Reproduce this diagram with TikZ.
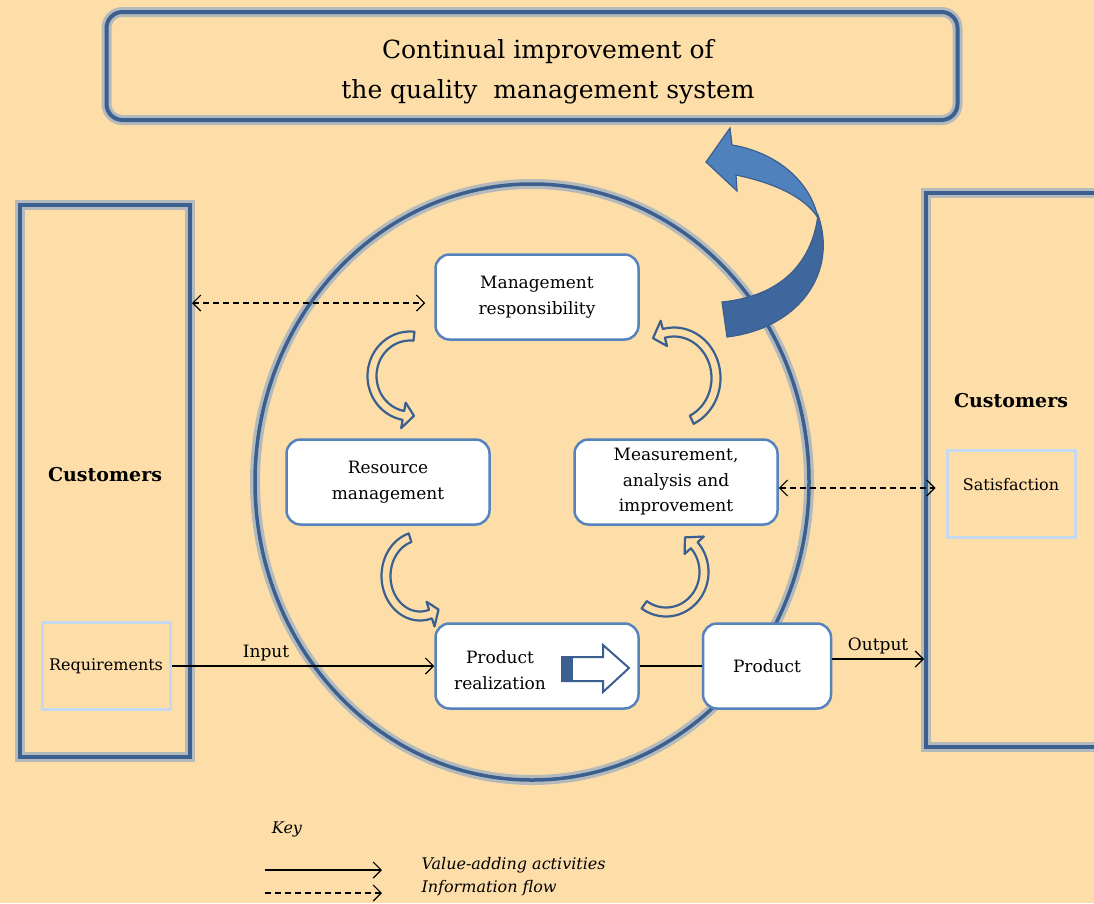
\documentclass[tikz,border=0pt]{standalone}
\usepackage{fontspec}
\setmainfont{DejaVu Serif}
\usetikzlibrary{arrows.meta,positioning,calc}

\definecolor{paper}{RGB}{253,222,169}
\definecolor{frameblue}{RGB}{59,95,143}
\definecolor{glowblue}{RGB}{150,170,195}
\definecolor{boxblue}{RGB}{86,131,190}
\definecolor{paleblue}{RGB}{198,217,241}
\definecolor{arrowlight}{RGB}{79,129,189}
\definecolor{arrowdark}{RGB}{62,103,158}

\tikzset{
  bigframe/.style={draw=frameblue, line width=4pt, preaction={draw=glowblue, line width=10pt, opacity=0.7}},
  procbox/.style={draw=boxblue, fill=white, line width=2.5pt, rounded corners=14pt, minimum width=203pt, minimum height=85pt, align=center, font=\fontsize{17}{25.5}\selectfont},
  subbox/.style={draw=paleblue, line width=3pt, minimum width=128pt, minimum height=87pt},
  plain/.style={font=\fontsize{17}{25.5}\selectfont, align=center},
  small/.style={font=\fontsize{16}{20}\selectfont},
  custtxt/.style={font=\fontsize{19}{22}\selectfont\bfseries},
  keytxt/.style={font=\fontsize{16}{20}\selectfont\itshape},
  flow/.style={-{Straight Barb[length=8pt,width=16pt]}, line width=1.2pt},
  info/.style={{Straight Barb[length=8pt,width=16pt]}-{Straight Barb[length=8pt,width=16pt]}, line width=1.2pt, dash pattern=on 6pt off 4pt},
  bentband/.style={draw=frameblue, fill=paper, line width=2.2pt, line join=round},
}

% hollow bent arrow: centre x, centre y, x radius, y radius, tail angle, head angle, tip angle
\newcommand{\bendarrow}[7]{%
  \pgfmathsetmacro{\bxo}{#3+4.5}\pgfmathsetmacro{\byo}{#4+4.5}%
  \pgfmathsetmacro{\bxi}{#3-4.5}\pgfmathsetmacro{\byi}{#4-4.5}%
  \draw[bentband] plot[domain=#5:#6, samples=40] ({#1+\bxo*cos(\x)}, {#2+\byo*sin(\x)})
    -- ({#1+(#3+13)*cos(#6)}, {#2+(#4+13)*sin(#6)})
    -- ({#1+#3*cos(#7)}, {#2+#4*sin(#7)})
    -- ({#1+(#3-13)*cos(#6)}, {#2+(#4-13)*sin(#6)})
    -- plot[domain=#6:#5, samples=40] ({#1+\bxi*cos(\x)}, {#2+\byi*sin(\x)})
    -- cycle;
}

\begin{document}
\begin{tikzpicture}[x=1pt, y=-1pt]
    \useasboundingbox (0,0) rectangle (1094,903);
    \fill[paper] (0,0) rectangle (1094,903);

    % Title
    \node[bigframe, rounded corners=16pt, minimum width=851pt, minimum height=108pt] (title) at (532,66) {};
    \node[plain, font=\fontsize{25}{40}\selectfont] (titletxt) at (548,72) {Continual improvement of\\the quality~ management system};

    % Customers on both sides
    \node[bigframe, minimum width=170pt, minimum height=552pt] (custL) at (105,481) {};
    \node[bigframe, minimum width=190pt, minimum height=554pt] (custR) at (1021,470) {};
    \node[custtxt] (custLtxt) at (105,475) {Customers};
    \node[custtxt] (custRtxt) at (1011,401) {Customers};
    \node[subbox, small] (req) at (106,666) {Requirements};
    \node[subbox] (satisf) at (1011,494) {};
    \node[small] (sattxt) at (1011,485) {Satisfaction};

    % Ring
    \draw[frameblue, line width=3.5pt, preaction={draw=glowblue, line width=10pt, opacity=0.7}] (532,482) ellipse [x radius=277, y radius=298];

    % Big arrow to the title
    \filldraw[fill=arrowdark, draw=frameblue, line width=1.2pt] (818,215) .. controls (812,262) and (782,296) .. (722,302) -- (727,337) .. controls (800,328) and (838,272) .. (818,215) -- cycle;
    \filldraw[fill=arrowlight, draw=frameblue, line width=1.2pt] (818,218) .. controls (810,180) and (775,152) .. (732,145) -- (730,128) -- (706,162) -- (737,191) -- (736,175) .. controls (775,183) and (806,198) .. (818,218) -- cycle;

    % Processes
    \node[procbox] (mgmt) at (537,297) {Management\\responsibility};
    \node[procbox] (resource) at (388,482) {Resource\\management};
    \node[procbox] (measure) at (676,482) {Measurement,\\analysis and\\improvement};
    \node[procbox] (realiz) at (537,666) {};
    \node[plain] (realiztxt) at (500,670) {Product\\realization};
    \node[procbox, minimum width=128pt] (product) at (767,666) {Product};

    % Block arrow in product realization
    \draw[fill=white, draw=frameblue, line width=2pt] (562,657) -- (603,657) -- (603,645) -- (629,668) -- (603,692) -- (603,681) -- (562,681) -- cycle;
    \fill[frameblue] (562,657) rectangle (573,681);

    % Cycle arrows
    \bendarrow{410}{376}{38}{40}{276}{100}{84}
    \bendarrow{674}{378}{42}{46}{65}{-104}{-120}
    \bendarrow{420}{576}{34}{40}{253}{72}{57}
    \bendarrow{666}{572}{38}{40}{125}{-42}{-60}

    % Flows
    \draw[flow] (req.east) -- (realiz.west) node[plain, pos=0.36, above=1pt] (input) {Input};
    \draw[line width=1.2pt] (realiz.east) -- (product.west);
    \draw[flow] ([yshift=7pt]product.east) -- ([yshift=7pt]product.east -| custR.west) node[plain, midway, above=1pt] (output) {Output};
    \draw[info, shorten >=9pt] (custL.east |- 0,303) -- (mgmt.west |- 0,303);
    \draw[info, shorten >=10pt] (measure.east |- 0,488) -- (satisf.west |- 0,488);

    % Key
    \node[keytxt] (key) at (287,829) {Key};
    \coordinate (k1) at (265,870);
    \coordinate (k2) at (382,870);
    \coordinate (k3) at (265,893);
    \coordinate (k4) at (382,893);
    \draw[flow] (k1) -- (k2);
    \draw[flow, dash pattern=on 6pt off 4pt] (k3) -- (k4);
    \node[keytxt, anchor=west] (valtxt) at (418,865) {Value-adding activities};
    \node[keytxt, anchor=west] (inftxt) at (418,888) {Information flow};
\end{tikzpicture}
\end{document}
